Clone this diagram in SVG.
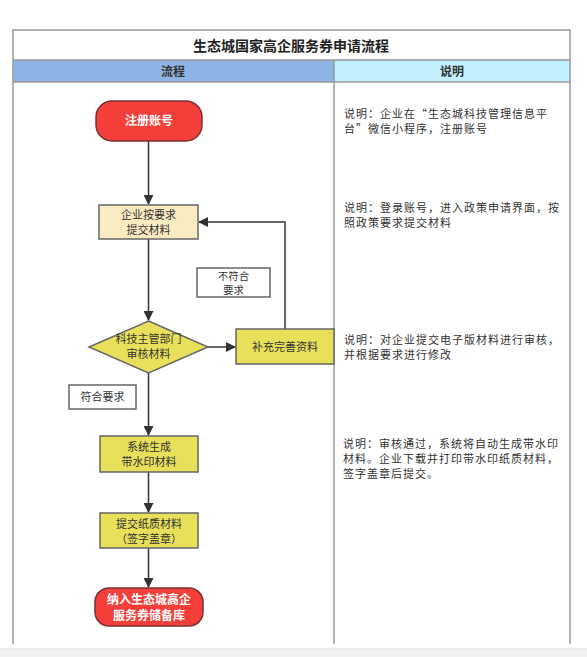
<svg xmlns="http://www.w3.org/2000/svg" width="587" height="657" viewBox="0 0 587 657">
<defs>
<marker id="ah" markerWidth="10" markerHeight="10" refX="9" refY="5" orient="auto" markerUnits="userSpaceOnUse">
<path d="M0,0 L10,5 L0,10 Z" fill="#333"/>
</marker>
<style>
text{font-family:"Noto Sans CJK SC","Noto Sans",sans-serif;}
.frame{fill:none;stroke:#999;stroke-width:1.5;}
.title{font-size:14px;font-weight:bold;fill:#222;text-anchor:middle;}
.hdr{font-size:12px;font-weight:bold;fill:#333;text-anchor:middle;}
.red{fill:#f53f3a;stroke:#7a3030;stroke-width:1.5;}
.wheat{fill:#fbebc3;stroke:#666;stroke-width:1.5;}
.yel{fill:#e8e05a;stroke:#666;stroke-width:1.5;}
.lbl{fill:#fff;stroke:#666;stroke-width:1.5;}
.wt{font-size:12px;font-weight:bold;fill:#fff;text-anchor:middle;}
.nt{font-size:11px;fill:#333;text-anchor:middle;}
.st{font-size:10.5px;fill:#333;text-anchor:middle;}
.dt{font-size:11px;letter-spacing:1px;fill:#333;}
.conn{fill:none;stroke:#333;stroke-width:1.5;}
</style>
</defs>
<rect x="0" y="0" width="587" height="657" fill="#fff"/>
<rect x="0" y="649" width="587" height="8" fill="#f2f2f2"/>
<line x1="0" y1="649" x2="587" y2="649" stroke="#ddd" stroke-width="1"/>
<g id="table">
<rect x="13" y="60" width="321" height="22" fill="#8db4e4"/>
<rect x="334" y="60" width="236" height="22" fill="#c2f0fe"/>
<path class="frame" d="M13,644 V30 H570 V644"/>
<line class="frame" x1="13" y1="60" x2="570" y2="60"/>
<line class="frame" x1="13" y1="82" x2="570" y2="82"/>
<line class="frame" x1="334" y1="60" x2="334" y2="644"/>
<text class="title" x="291" y="51">生态城国家高企服务券申请流程</text>
<text class="hdr" x="173" y="76">流程</text>
<text class="hdr" x="452" y="76">说明</text>
</g>
<g id="connectors">
<line class="conn" x1="148.5" y1="141" x2="148.5" y2="204" marker-end="url(#ah)"/>
<line class="conn" x1="148.5" y1="239" x2="148.5" y2="320" marker-end="url(#ah)"/>
<line class="conn" x1="208" y1="347" x2="235" y2="347" marker-end="url(#ah)"/>
<path class="conn" d="M285,329 V222 H199" marker-end="url(#ah)"/>
<line class="conn" x1="148.5" y1="373" x2="148.5" y2="435" marker-end="url(#ah)"/>
<line class="conn" x1="148.5" y1="472" x2="148.5" y2="512" marker-end="url(#ah)"/>
<line class="conn" x1="148.5" y1="548" x2="148.5" y2="587" marker-end="url(#ah)"/>
</g>
<g id="n1">
<rect class="red" x="96" y="101" width="106" height="40" rx="16"/>
<text class="wt" x="149" y="125">注册账号</text>
</g>
<g id="n2">
<rect class="wheat" x="99" y="205" width="99" height="34"/>
<text class="nt" x="148.5" y="219">企业按要求</text>
<text class="nt" x="148.5" y="234">提交材料</text>
</g>
<g id="n3">
<polygon class="yel" points="148.5,321 208,347 148.5,373 89,347"/>
<text class="nt" x="148.5" y="343">科技主管部门</text>
<text class="nt" x="148.5" y="358">审核材料</text>
</g>
<g id="n4">
<rect class="yel" x="236" y="329" width="98" height="35"/>
<text class="nt" x="285" y="351">补充完善资料</text>
</g>
<g id="lbl1">
<rect class="lbl" x="197" y="268" width="73" height="29"/>
<text class="st" x="233.5" y="280">不符合</text>
<text class="st" x="233.5" y="294">要求</text>
</g>
<g id="lbl2">
<rect class="lbl" x="69" y="385" width="67" height="24"/>
<text class="nt" x="102.5" y="401">符合要求</text>
</g>
<g id="n5">
<rect class="yel" x="100" y="436" width="98" height="36"/>
<text class="nt" x="149" y="451">系统生成</text>
<text class="nt" x="149" y="466">带水印材料</text>
</g>
<g id="n6">
<rect class="yel" x="100" y="513" width="98" height="35"/>
<text class="nt" x="149" y="528">提交纸质材料</text>
<text class="nt" x="149" y="543">（签字盖章）</text>
</g>
<g id="n7">
<rect class="red" x="95" y="588" width="108" height="38" rx="14"/>
<text class="wt" x="149" y="604">纳入生态城高企</text>
<text class="wt" x="149" y="620">服务券储备库</text>
</g>
<g id="desc">
<text class="dt" x="344" y="118">说明：企业在“生态城科技管理信息平</text>
<text class="dt" x="344" y="133">台”微信小程序，注册账号</text>
<text class="dt" x="344" y="212">说明：登录账号，进入政策申请界面，按</text>
<text class="dt" x="344" y="227">照政策要求提交材料</text>
<text class="dt" x="344" y="344">说明：对企业提交电子版材料进行审核，</text>
<text class="dt" x="344" y="359">并根据要求进行修改</text>
<text class="dt" x="343" y="448">说明：审核通过，系统将自动生成带水印</text>
<text class="dt" x="343" y="463">材料。企业下载并打印带水印纸质材料，</text>
<text class="dt" x="343" y="478">签字盖章后提交。</text>
</g>
</svg>
